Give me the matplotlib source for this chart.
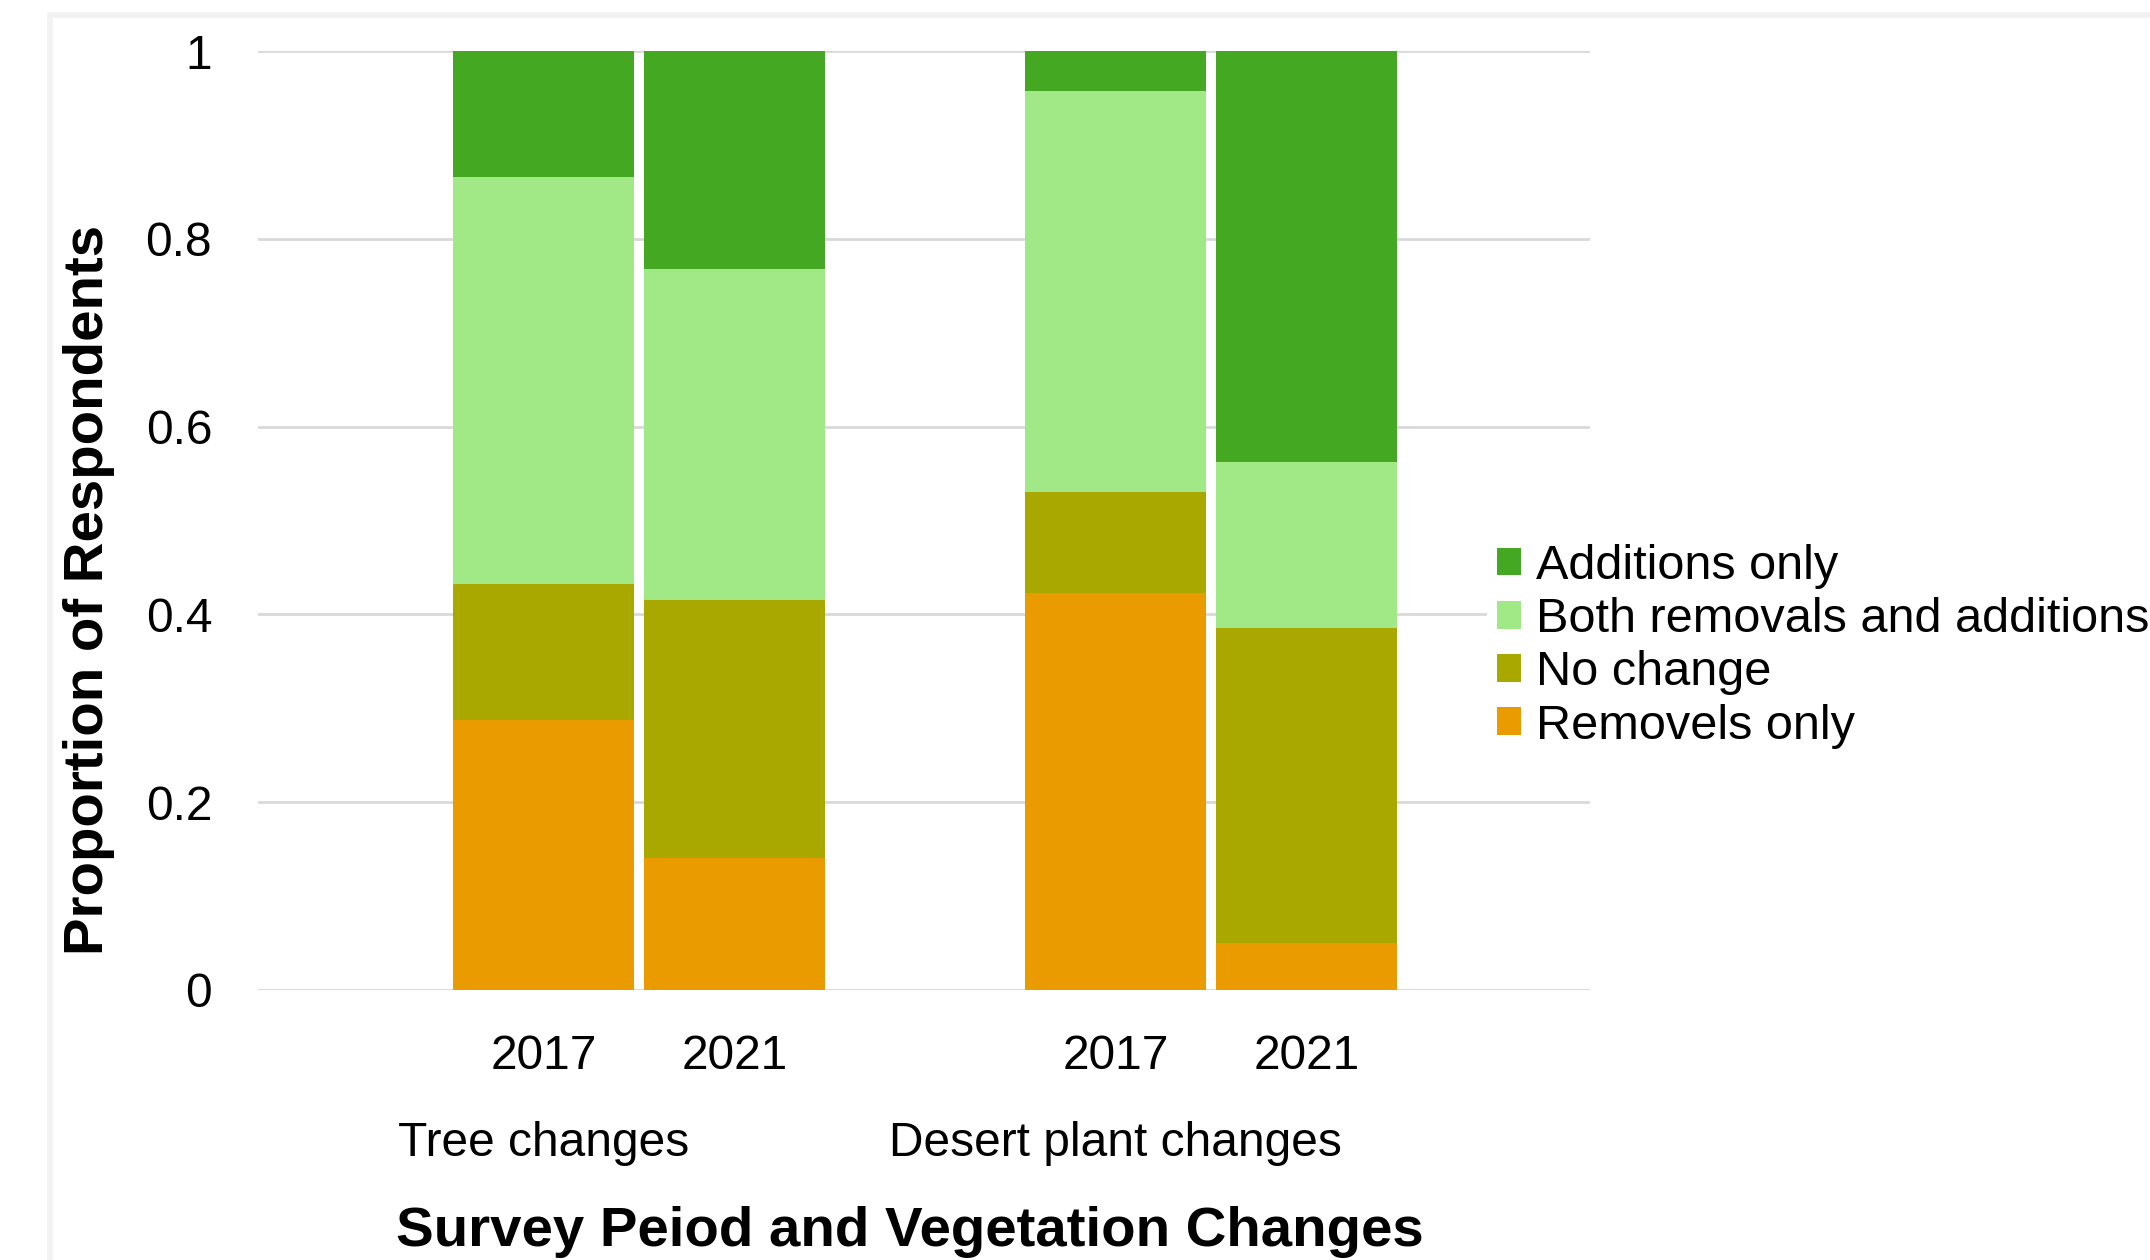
import matplotlib
matplotlib.use("Agg")
import matplotlib.pyplot as plt
from matplotlib.patches import Rectangle

plt.rcParams['font.family'] = ['Liberation Sans', 'DejaVu Sans']

# data (proportions, stacked bottom to top)
years = ['2017', '2021', '2017', '2021']
groups = ['Tree changes', 'Desert plant changes']
series = ['Removels only', 'No change', 'Both removals and additions', 'Additions only']
removals = [0.288, 0.141, 0.423, 0.050]
no_change = [0.144, 0.274, 0.107, 0.335]
both = [0.434, 0.353, 0.427, 0.177]
additions = [0.134, 0.232, 0.043, 0.438]
colors = ['#E99B00', '#A8A800', '#A1E887', '#45A823']

fig = plt.figure(figsize=(21.5, 12.6), dpi=100)
ax = fig.add_axes([0.12, 0.2143, 0.6195, 0.7452])

# faint outer border like the original chart frame
fig.patches.append(Rectangle((50 / 2150, -0.1), 1.2, 1.1 - 15 / 1260, transform=fig.transFigure,
                             fill=False, edgecolor='#f2f2f2', linewidth=4, zorder=0))

xpos = [1.58, 2.635, 4.74, 5.795]
bottom = [0, 0, 0, 0]
for vals, col, name in zip([removals, no_change, both, additions], colors, series):
    ax.bar(xpos, vals, width=1.0, bottom=bottom, color=col, label=name, zorder=2)
    bottom = [bt + v for bt, v in zip(bottom, vals)]

ax.set_xlim(0, 7.36)
ax.set_ylim(0, 1)
ax.set_yticks([0, 0.2, 0.4, 0.6, 0.8, 1])
ax.set_yticklabels(['0', '0.2', '0.4', '0.6', '0.8', '1'])
ax.yaxis.grid(True, color='#d9d9d9', linewidth=2, zorder=0)
ax.set_axisbelow(True)
for s in ax.spines.values():
    s.set_visible(False)
ax.tick_params(axis='y', length=0, pad=33, labelsize=34.5)
ax.set_xticks(xpos)
ax.set_xticklabels(years)
ax.tick_params(axis='x', length=0, pad=32, labelsize=34.5)

# group labels under the first bar of each pair
for g, x in zip(groups, [xpos[0], xpos[2]]):
    ax.text(x, -0.163, g, transform=ax.get_xaxis_transform(), ha='center', va='center', fontsize=34.5)

fig.text(910 / 2150, 1 - 1232 / 1260, 'Survey Peiod and Vegetation Changes', ha='center', va='center',
         fontsize=40.6, fontweight='bold')
fig.text(89 / 2150, 1 - 590 / 1260, 'Proportion of Respondents', ha='center', va='center',
         rotation=90, fontsize=40.6, fontweight='bold')

h, l = ax.get_legend_handles_labels()
leg = fig.legend(h[::-1], l[::-1], loc='center left', bbox_to_anchor=(0.6916, 0.4872),
                 fontsize=35, frameon=True, facecolor='white', edgecolor='white', framealpha=1,
                 handlelength=0.5, handleheight=0.5, handletextpad=0.3, labelspacing=0.17,
                 borderpad=0.2, borderaxespad=0)
leg.get_frame().set_linewidth(0)

fig.savefig('out.png', dpi=100)
